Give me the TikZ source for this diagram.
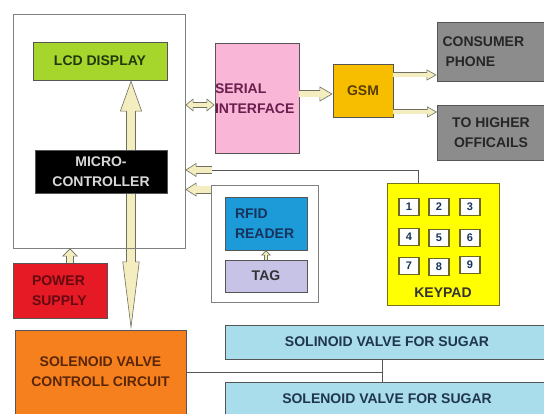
\documentclass[tikz,border=0pt]{standalone}
\usepackage{fontspec}
\setmainfont{Liberation Sans}
\usetikzlibrary{positioning, arrows.meta, calc, backgrounds}

\definecolor{lcdgreen}{HTML}{A6D62B}
\definecolor{serialpink}{HTML}{F9B6D7}
\definecolor{gsmorange}{HTML}{F7BE00}
\definecolor{phonegray}{HTML}{8C8C8C}
\definecolor{rfidblue}{HTML}{1C9BD8}
\definecolor{taglilac}{HTML}{C7C3E6}
\definecolor{kpyellow}{HTML}{FFFF00}
\definecolor{powerred}{HTML}{E51A24}
\definecolor{ctlorange}{HTML}{F7801E}
\definecolor{valveblue}{HTML}{A9DDEB}
\definecolor{cream}{HTML}{F3EDC0}
\definecolor{arredge}{HTML}{6F6F5F}
\definecolor{boxedge}{HTML}{555555}
% text colours
\definecolor{lcdtext}{HTML}{23380F}
\definecolor{serialtext}{HTML}{6A1E4E}
\definecolor{gsmtext}{HTML}{5A3E00}
\definecolor{rfidtext}{HTML}{17325C}
\definecolor{powertext}{HTML}{640A12}
\definecolor{ctltext}{HTML}{5A2608}
\definecolor{valvetext}{HTML}{1F3550}

\begin{document}
\begin{tikzpicture}[x=1pt, y=-1pt,
  box/.style={draw=boxedge, line width=0.9pt, font=\bfseries\fontsize{14}{20}\selectfont, align=center, inner sep=0pt},
  frame/.style={draw=gray, line width=0.9pt},
  key/.style={draw=olive!70!black, line width=1.2pt, fill=white, minimum width=20pt, minimum height=17pt, inner sep=0pt, font=\bfseries\fontsize{11}{11}\selectfont, text=rfidtext},
  wire/.style={draw=boxedge, line width=0.8pt},
  fat/.style n args={3}{draw=arredge, line width=#1, -{Triangle[length=#2, width=#3, fill=cream, line width=0.6pt]}, postaction={draw=cream, line width=#1-1.2pt, -, shorten >=#2-1pt}},
  fatboth/.style n args={3}{draw=arredge, line width=#1, {Triangle[length=#2, width=#3, fill=cream, line width=0.6pt]}-{Triangle[length=#2, width=#3, fill=cream, line width=0.6pt]}, postaction={draw=cream, line width=#1-1.2pt, -, shorten >=#2-1pt, shorten <=#2-1pt}},
]
\useasboundingbox (0,0) rectangle (544,414);

% --- Controller frame ---
\node[frame, minimum width=172pt, minimum height=234pt] (mcubox) at (99,131) {};
\node[box, fill=lcdgreen, text=lcdtext, minimum width=134pt, minimum height=38pt] (lcd) at (100,61) {LCD DISPLAY};
\node[box, fill=black, text=white!85!black, minimum width=132pt, minimum height=43pt] (mcu) at (101,171.5) {MICRO-\\CONTROLLER};

% --- Communication ---
\node[box, fill=serialpink, text=serialtext, align=left, text width=84pt, minimum height=110pt] (serial) at (257,98.5) {SERIAL\\INTERFACE};
\node[box, fill=gsmorange, text=gsmtext, minimum width=60pt, minimum height=53pt] (gsm) at (363,90.5) {GSM};
\node[box, fill=phonegray, text=black!85, align=left, text width=96pt, minimum width=107pt, minimum height=59pt] (phone) at (490.5,51.5) {CONSUMER\\\hspace*{3pt}PHONE};
\node[box, fill=phonegray, text=black!85, minimum width=107pt, minimum height=55pt] (offic) at (491,132.5) {TO HIGHER\\OFFICAILS};

% --- RFID ---
\node[frame, minimum width=107pt, minimum height=117pt] (rfidbox) at (264.5,243.5) {};
\node[box, fill=rfidblue, text=rfidtext, align=left, text width=62pt, minimum width=82pt, minimum height=53pt] (rfid) at (266,223.5) {RFID\\READER};
\node[box, fill=taglilac, text=black!80, minimum width=82pt, minimum height=32pt] (tag) at (266,276) {TAG};

% --- Keypad ---
\node[box, fill=kpyellow, draw=olive!80!black, minimum width=112pt, minimum height=122pt] (keypad) at (443,244) {};
\foreach \n/\kx/\ky in {1/409/207, 2/439/207, 3/470/207, 4/409/237, 5/439/238, 6/470/238, 7/409/266, 8/439/267, 9/470/265} {
  \node[key] (k\n) at (\kx,\ky) {\n};
}
\node[font=\bfseries\fontsize{14}{16}\selectfont, text=black!80, inner sep=0pt] (kplabel) at (443,293) {KEYPAD};

% --- Power and valves ---
\node[box, fill=powerred, text=powertext, align=left, text width=56pt, minimum width=94pt, minimum height=55pt] (power) at (60,290.5) {POWER\\SUPPLY};
\node[box, fill=ctlorange, text=ctltext, minimum width=171pt, minimum height=84pt] (solctl) at (100.5,372) {SOLENOID VALVE\\CONTROLL CIRCUIT};
\node[box, fill=valveblue, text=valvetext, minimum width=324pt, minimum height=34pt] (valve1) at (387,342) {SOLINOID VALVE FOR SUGAR};
\node[box, fill=valveblue, text=valvetext, minimum width=324pt, minimum height=34pt] (valve2) at (387,399) {SOLENOID VALVE FOR SUGAR};

% --- Connectors ---
\coordinate (bus) at (131,172);
\begin{scope}[on background layer]
  \draw[fat={10pt}{31pt}{22pt}] (bus) -- (bus |- lcd.south);
  \draw[fat={10pt}{68pt}{17pt}] (bus) -- (bus |- solctl.north);
\end{scope}

\draw[fatboth={6pt}{8pt}{13pt}] (mcubox.east |- 0,105) -- (serial.west |- 0,105);
\draw[fat={7pt}{13pt}{15pt}] (serial.east |- 0,94) -- (gsm.west |- 0,94);
\draw[fat={5pt}{10pt}{11pt}] (gsm.east |- 0,75) -- (phone.west |- 0,75);
\draw[fat={5pt}{10pt}{11pt}] (gsm.east |- 0,112) -- (offic.west |- 0,112);

\coordinate (kp) at (212,170);
\draw[wire] (keypad.north -| 418,0) |- (kp);
\draw[fat={8pt}{11pt}{14pt}] (kp) -- (kp -| mcubox.east);
\draw[fat={8pt}{11pt}{14pt}] ([yshift=-5pt]rfidbox.north west) -- ([yshift=-5pt]rfidbox.north west -| mcubox.east);
\draw[fat={4pt}{5pt}{10pt}] (tag.north) -- (rfid.south);
\draw[fat={8pt}{8pt}{16pt}] (power.north -| 70,0) -- (mcubox.south -| 70,0);

\coordinate (vj) at (382,372);
\draw[wire] (solctl.east) -- (vj);
\draw[wire] (valve1.south -| vj) -- (valve2.north -| vj);

\end{tikzpicture}
\end{document}
